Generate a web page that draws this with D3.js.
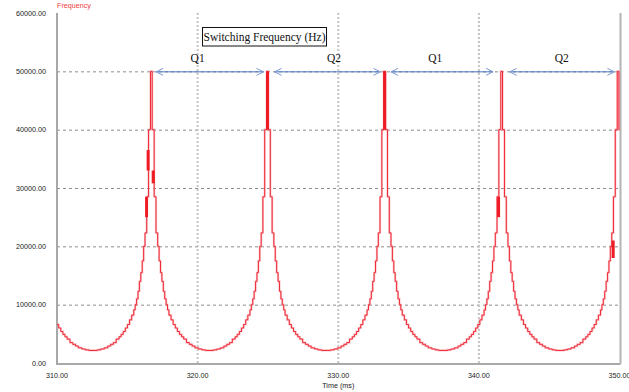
<!DOCTYPE html>
<html><head><meta charset="utf-8">
<script src="https://cdn.jsdelivr.net/npm/d3@7"></script>
<style>html,body{margin:0;padding:0;background:#fff;}svg{display:block;}</style>
</head><body>
<svg id="c" width="629" height="392"></svg>
<script>
// ---- data ----
const xTicks = [310, 320, 330, 340, 350];
const yTicks = [0, 10000, 20000, 30000, 40000, 50000, 60000];
const peakTimes = [308.42, 316.71, 324.97, 333.30, 341.62, 349.90];
// step profile around a peak: distance from peak (ms) -> frequency (Hz)
const profileOffsets = [0.06, 0.2, 0.33, 0.45, 0.55, 0.65, 0.75, 0.85, 0.95, 1.05, 1.15, 1.25, 1.4, 1.55, 1.7, 1.85, 2.0, 2.15, 2.3, 2.5, 2.7, 2.9, 3.1, 3.35, 3.6, 3.85];
const profileValues  = [50000, 40000, 28500, 22300, 20000, 17500, 15500, 14000, 12300, 11000, 10000, 9100, 8200, 7400, 6600, 6000, 5400, 4900, 4500, 4100, 3500, 3200, 2900, 2600, 2400, 2250];
const valleyValue = 2150;
// dense toggling segments: [time, low, high]
const bursts = [[316.48, 33000, 36500], [316.37, 25000, 28500], [316.84, 30800, 33000],
                [324.97, 40000, 50000], [333.30, 40000, 50000], [341.40, 25000, 28500], [349.55, 18000, 21000]];
// annotation arrows [start, end] in ms, labels
const arrowSpans = [[317.05, 324.68], [325.47, 333.0], [333.75, 341.01], [342.19, 349.64]];
const arrowLabels = ["Q1", "Q2", "Q1", "Q2"];
const arrowLabelX = [320.0, 329.7, 336.9, 345.9];
const arrowLevel = 50000;

// ---- build series from the measured profile ----
function profileAt(t){
  const d = d3.min(peakTimes, p => Math.abs(t - p));
  for (let k = 0; k < profileOffsets.length; k++) if (d < profileOffsets[k]) return profileValues[k];
  return valleyValue;
}
let bps = [310];
peakTimes.forEach(p => profileOffsets.forEach(o => { bps.push(p - o, p + o); }));
bps = bps.filter(t => t >= 310 && t <= 350).sort((a,b)=>a-b);
const series = bps.map(t => [t, profileAt(t + 1e-6)]);
series.push([350, profileAt(350)]);

// ---- drawing ----
const svg = d3.select("#c");
const x = d3.scaleLinear().domain([310, 350]).range([57, 619.5]);
const y = d3.scaleLinear().domain([0, 60000]).range([363, 13]);

// horizontal grid
svg.append("g").selectAll("line").data(yTicks.filter(v => v > 0 && v < 60000)).join("line")
  .attr("x1", x(310)).attr("x2", x(350)).attr("y1", d => y(d)+0.5).attr("y2", d => y(d)+0.5)
  .attr("stroke", "#8c8c8c").attr("stroke-width", 1).attr("stroke-dasharray", "3,3");
// vertical grid
svg.append("g").selectAll("line").data(xTicks.filter(v => v > 310 && v < 350)).join("line")
  .attr("x1", d => x(d)).attr("x2", d => x(d)).attr("y1", y(60000)).attr("y2", y(0))
  .attr("stroke", "#c4c4c4").attr("stroke-width", 2).attr("stroke-dasharray", "2,2");

// frame
svg.append("line").attr("x1", x(310)).attr("x2", x(310)).attr("y1", y(60000)).attr("y2", y(0)+1)
  .attr("stroke", "#a8a8a8").attr("stroke-width", 2);
svg.append("line").attr("x1", x(310)-1).attr("x2", x(350)+1).attr("y1", y(0)+1).attr("y2", y(0)+1)
  .attr("stroke", "#a8a8a8").attr("stroke-width", 2);
svg.append("line").attr("x1", x(350)+1).attr("x2", x(350)+1).attr("y1", y(60000)).attr("y2", y(0)+1)
  .attr("stroke", "#b4b4b4").attr("stroke-width", 2);

// axes labels
const fmt = d3.format(".2f");
svg.append("g").selectAll("text").data(yTicks).join("text")
  .attr("x", 46).attr("y", d => y(d)).attr("dy", "0.35em").attr("text-anchor", "end")
  .attr("font-family", "Liberation Sans, Arial, sans-serif").attr("font-size", 7.2).attr("fill", "#222")
  .text(d => fmt(d));
svg.append("g").selectAll("text").data(xTicks).join("text")
  .attr("x", d => x(d)).attr("y", 375).attr("dy", "0.35em").attr("text-anchor", "middle")
  .attr("font-family", "Liberation Sans, Arial, sans-serif").attr("font-size", 7.2).attr("fill", "#222")
  .text(d => fmt(d));
svg.append("text").attr("x", (x(310)+x(350))/2).attr("y", 385).attr("dy", "0.35em").attr("text-anchor", "middle")
  .attr("font-family", "Liberation Sans, Arial, sans-serif").attr("font-size", 7.2).attr("fill", "#222")
  .text("Time (ms)");
svg.append("text").attr("x", 57).attr("y", 5).attr("dy", "0.35em")
  .attr("font-family", "Liberation Sans, Arial, sans-serif").attr("font-size", 7.2).attr("fill", "#f03c3c")
  .text("Frequency");

// curve
const line = d3.line().x(d => x(d[0])).y(d => y(d[1])).curve(d3.curveStepAfter);
svg.append("path").datum(series).attr("d", line).attr("fill", "none")
  .attr("stroke", "#f7a0a8").attr("stroke-width", 2.2).attr("opacity", 0.6);
svg.append("path").datum(series).attr("d", line).attr("fill", "none")
  .attr("stroke", "#ee2a36").attr("stroke-width", 1);
svg.append("g").selectAll("line").data(bursts).join("line")
  .attr("x1", d => x(d[0])).attr("x2", d => x(d[0])).attr("y1", d => y(d[1])).attr("y2", d => y(d[2]))
  .attr("stroke", "#ee1c25").attr("stroke-width", 3);

// arrows
const ag = svg.append("g");
arrowSpans.forEach((s, i) => {
  const x1 = x(s[0]), x2 = x(s[1]), yy = y(arrowLevel) + 0.5;
  ag.append("line").attr("x1", x1).attr("x2", x2).attr("y1", yy).attr("y2", yy)
    .attr("stroke", "#4a78c0").attr("stroke-width", 1);
  ag.append("path").attr("d", `M${x1+7},${yy-3.5}L${x1},${yy}L${x1+7},${yy+3.5}`)
    .attr("fill", "none").attr("stroke", "#7c9ad4").attr("stroke-width", 1);
  ag.append("path").attr("d", `M${x2-7},${yy-3.5}L${x2},${yy}L${x2-7},${yy+3.5}`)
    .attr("fill", "none").attr("stroke", "#7c9ad4").attr("stroke-width", 1);
  ag.append("text").attr("x", x(arrowLabelX[i])).attr("y", 57.5).attr("dy", "0.35em").attr("text-anchor", "middle")
    .attr("font-family", "Liberation Serif, Times New Roman, serif").attr("font-size", 11.5).attr("fill", "#111")
    .text(arrowLabels[i]);
});

// title box
svg.append("rect").attr("x", 202.5).attr("y", 27.5).attr("width", 124).attr("height", 18.5)
  .attr("fill", "#fff").attr("stroke", "#111").attr("stroke-width", 1);
svg.append("text").attr("x", 264.5).attr("y", 37).attr("dy", "0.35em").attr("text-anchor", "middle")
  .attr("font-family", "Liberation Serif, Times New Roman, serif").attr("font-size", 11.5).attr("fill", "#111")
  .text("Switching Frequency (Hz)");
</script>
</body></html>
